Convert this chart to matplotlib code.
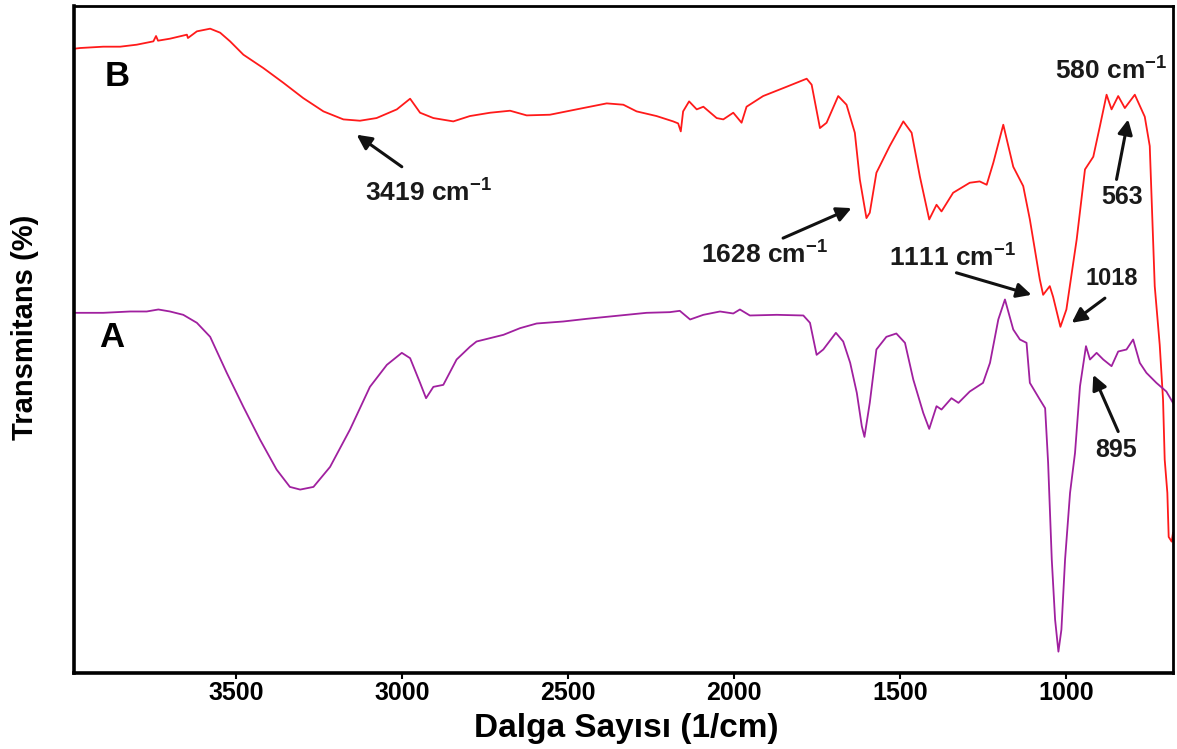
import matplotlib
matplotlib.use("Agg")
import matplotlib.pyplot as plt

plt.rcParams['font.family'] = ['Liberation Sans', 'DejaVu Sans']
plt.rcParams['mathtext.fontset'] = 'custom'
plt.rcParams['mathtext.rm'] = 'Liberation Sans:bold'
plt.rcParams['mathtext.bf'] = 'Liberation Sans:bold'
plt.rcParams['mathtext.it'] = 'Liberation Sans:bold'

# ---- data (wavenumber in 1/cm, transmittance in arbitrary %) ----
B_wn = [3985, 3969, 3899, 3848, 3798, 3748, 3740, 3734, 3698, 3647, 3644, 3617, 3577, 3547, 3517, 3477,
        3417, 3357, 3297, 3236, 3176, 3126, 3076, 3015, 2975, 2945, 2905, 2845, 2795, 2734,
        2674, 2624, 2554, 2474, 2383, 2333, 2293, 2233, 2183, 2168, 2160, 2153, 2135, 2112,
        2092, 2052, 2032, 2002, 1977, 1962, 1912, 1841, 1781, 1766, 1741, 1721, 1686, 1661,
        1636, 1621, 1601, 1591, 1571, 1531, 1490, 1465, 1440, 1412, 1390, 1375, 1340, 1290,
        1260, 1239, 1219, 1189, 1159, 1129, 1109, 1079, 1069, 1049, 1039, 1017, 999, 968,
        943, 918, 898, 878, 863, 843, 823, 793, 763, 748, 733, 718, 708, 703, 695, 691, 682, 678]
B_T = [93.6, 93.7, 93.9, 93.9, 94.2, 94.7, 95.5, 94.8, 95.1, 95.7, 95.2, 96.2, 96.6, 96.0, 94.7, 92.7,
       90.7, 88.5, 86.2, 84.2, 83.0, 82.8, 83.2, 84.5, 86.1, 84.0, 83.2, 82.7, 83.5, 84.0,
       84.3, 83.6, 83.7, 84.5, 85.4, 85.2, 84.2, 83.5, 82.7, 82.4, 81.2, 84.2, 85.7, 84.5,
       84.9, 83.2, 83.0, 84.0, 82.5, 84.9, 86.5, 87.9, 89.1, 88.2, 81.7, 82.5, 86.5, 85.2,
       81.0, 74.0, 68.2, 69.0, 75.0, 79.0, 82.7, 81.0, 74.4, 68.0, 70.2, 69.2, 72.0, 73.5,
       73.7, 73.2, 76.5, 82.2, 75.9, 73.0, 68.0, 59.0, 56.7, 58.0, 56.4, 51.9, 54.5, 65.0,
       75.5, 77.4, 82.0, 86.7, 84.5, 86.5, 84.7, 86.7, 83.4, 79.0, 58.0, 49.2, 41.0, 32.0, 27.0, 20.4, 19.7, 21.0]

A_wn = [3985, 3969, 3899, 3818, 3768, 3733, 3698, 3658, 3617, 3577, 3527, 3477, 3427, 3377, 3337, 3306,
        3266, 3216, 3156, 3096, 3045, 3000, 2975, 2945, 2927, 2905, 2875, 2835, 2795, 2775,
        2694, 2644, 2594, 2514, 2443, 2343, 2263, 2193, 2163, 2132, 2092, 2042, 2002, 1982,
        1952, 1871, 1791, 1771, 1751, 1731, 1693, 1671, 1650, 1630, 1615, 1607, 1591, 1571,
        1541, 1511, 1485, 1460, 1430, 1412, 1390, 1375, 1345, 1324, 1290, 1250, 1229, 1204,
        1184, 1159, 1139, 1119, 1109, 1079, 1063, 1054, 1043, 1033, 1023, 1014, 1003, 988,
        973, 958, 940, 928, 908, 888, 863, 843, 818, 798, 778, 758, 728, 698, 678]
A_T = [54.0, 54.0, 54.0, 54.2, 54.2, 54.5, 54.2, 53.7, 52.5, 50.4, 45.0, 39.9, 35.0, 30.5, 27.9, 27.5,
       27.9, 30.9, 36.5, 42.9, 46.2, 48.0, 47.2, 43.5, 41.2, 42.9, 43.2, 47.0, 48.9, 49.7,
       50.7, 51.7, 52.4, 52.7, 53.1, 53.6, 54.0, 54.1, 54.3, 53.0, 53.7, 54.2, 53.9, 54.5,
       53.6, 53.7, 53.6, 52.5, 47.7, 48.5, 51.0, 49.7, 46.5, 42.0, 37.0, 35.4, 40.5, 48.5,
       50.4, 50.9, 49.5, 44.0, 39.0, 36.6, 40.0, 39.5, 41.2, 40.5, 42.2, 43.5, 46.5, 53.0,
       56.0, 51.5, 50.0, 49.5, 43.5, 41.0, 39.7, 31.5, 17.0, 8.0, 3.2, 6.5, 17.0, 27.0,
       33.0, 43.0, 49.0, 47.0, 48.0, 47.0, 46.0, 48.2, 48.5, 50.0, 46.5, 45.0, 43.5, 42.2, 40.5]

x_ticks = [3500, 3000, 2500, 2000, 1500, 1000]

# annotations: (text, text_x, text_y, fontsize)
texts = [
    ("3419 cm$^{-1}$", 2921, 72.0, 19),
    ("1628 cm$^{-1}$", 1907, 62.6, 19),
    ("1111 cm$^{-1}$", 1341, 62.2, 19),
    ("1018", 861, 59.2, 17),
    ("580 cm$^{-1}$", 864, 90.2, 19),
    ("563", 831, 71.4, 18),
    ("895", 848, 33.5, 18),
]
# arrows: (tail_x, tail_y, head_x, head_y)
arrows = [
    (3000, 75.9, 3136, 80.7),
    (1852, 65.2, 1646, 69.7),
    (1330, 60.0, 1104, 56.7),
    (883, 56.2, 983, 52.5),
    (848, 74.0, 813, 83.0),
    (843, 36.2, 918, 44.7),
]
series_labels = [("B", 3858, 89.4), ("A", 3872, 50.3)]

fig = plt.figure(figsize=(11.77, 7.49), dpi=100)
ax = fig.add_axes([74/1177, 1-673/749, (1173-74)/1177, (673-6)/749])

ax.plot(B_wn, B_T, color='#ff1a1a', lw=1.3)
ax.plot(A_wn, A_T, color='#a0209f', lw=1.3)

ax.set_xlim(3987, 678)
ax.set_ylim(0, 100)
ax.set_xticks(x_ticks)
ax.set_xticklabels([str(t) for t in x_ticks], fontsize=18, fontweight='bold')
ax.set_yticks([])
ax.tick_params(axis='x', direction='out', length=4, width=1.5, pad=2)

for side in ['left', 'bottom']:
    ax.spines[side].set_linewidth(2.6)
for side in ['top', 'right']:
    ax.spines[side].set_linewidth(2.0)

for t, x, y, fs in texts:
    ax.text(x, y, t, fontsize=fs, fontweight='bold', ha='center', va='center', color='#1a1a1a')
for tx, ty, hx, hy in arrows:
    ax.annotate('', xy=(hx, hy), xytext=(tx, ty),
                arrowprops=dict(arrowstyle='-|>', color='#111111', lw=2.2,
                                mutation_scale=22, shrinkA=0, shrinkB=0))
for t, x, y in series_labels:
    ax.text(x, y, t, fontsize=25, fontweight='bold', ha='center', va='center', color='black')

fig.text(626/1177, 1-728/749, "Dalga Sayısı (1/cm)", fontsize=24, fontweight='bold',
         ha='center', va='center')
fig.text(25/1177, 1-327/749, "Transmitans (%)", fontsize=21, fontweight='bold',
         ha='center', va='center', rotation=90)

fig.savefig("out.png", dpi=100)
